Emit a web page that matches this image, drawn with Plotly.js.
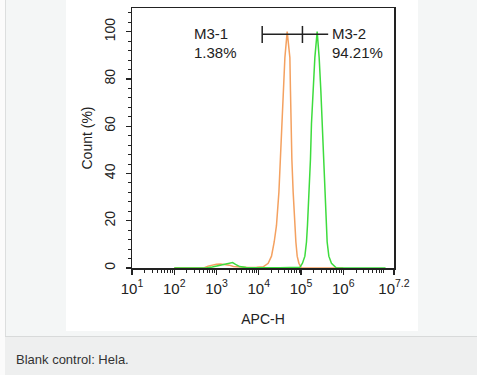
<!DOCTYPE html>
<html>
<head>
<meta charset="utf-8">
<script src="https://cdn.plot.ly/plotly-3.0.1.min.js"></script>
<style>
  html, body { margin: 0; padding: 0; width: 477px; height: 375px; overflow: hidden; background: #fbfbfb; }
  #frame { position: absolute; left: 5px; top: 0; width: 471px; height: 336px; border-left: 1px solid #dcdede; background: #f4f6f6; }
  #caption { position: absolute; left: 5px; top: 336px; width: 472px; height: 39px; background: #eeefef; border-top: 1px solid #d8dada; }
  #captext { position: absolute; left: 11px; top: 14px; font: 13px "Liberation Sans", Arial, sans-serif; color: #333; line-height: 18px; white-space: nowrap; }
  #chart { position: absolute; left: 66px; top: 0; width: 352px; height: 331px; background: #fff; }
</style>
</head>
<body>
<div id="frame"></div>
<div id="caption"><span id="captext"></span></div>
<div id="chart"></div>
<script>
// ---- data ----
const captionText = 'Blank control: Hela.';
const xTitle = 'APC-H';
const yTitle = 'Count (%)';

const xTickVals = [1e1, 1e2, 1e3, 1e4, 1e5, 1e6, 15848931.92];
const xTickText = ['10<sup>1</sup>', '10<sup>2</sup>', '10<sup>3</sup>', '10<sup>4</sup>', '10<sup>5</sup>', '10<sup>6</sup>', '10<sup>7.2</sup>'];
const yTickVals = [0, 20, 40, 60, 80, 100];

// blank control (orange)
const orangeX = [100, 501, 631, 794, 1000, 1259, 1585, 1995, 2512, 3548, 5623, 8913,
  12735, 16711, 20000, 23174, 26242, 29923, 32659, 35810, 37844, 41495, 46989,
  54450, 56234, 57544, 60674, 65163, 71450, 75509, 81096, 88920, 102329, 1000000];
const orangeY = [0, 0, 0.8, 1.3, 1.6, 1.7, 1.6, 1.2, 0.6, 0.3, 0.2, 0.3,
  0.5, 2, 5, 11, 18, 32, 46, 61, 75, 89, 100,
  89, 75, 61, 46, 32, 18, 11, 5, 2, 0, 0];

// stained sample (green)
const greenX = [100, 562, 794, 1122, 1585, 1995, 2399, 2818, 3548, 5012, 7943, 31623,
  93972, 108143, 123310, 134586, 141906, 155955, 167109, 176604, 193642, 212324, 240991,
  268534, 294442, 316228, 334195, 358096, 392645, 414954, 454988, 524807, 688652, 10000000];
const greenY = [0, 0, 0.4, 0.9, 1.4, 2.0, 2.3, 1.5, 0.6, 0.2, 0.1, 0.1,
  0.3, 2, 5, 11, 18, 32, 46, 61, 75, 89, 100,
  89, 75, 61, 46, 32, 18, 11, 5, 2, 0, 0];

// gate markers
const gateNames = ['M3-1', 'M3-2'];
const gatePercents = ['1.38%', '94.21%'];
const gateM31 = [12050, 108000];
const gateM32 = [108000, 439000];
const gateLevel = 98.9;
const capRange = [95.2, 102.4];

// ---- build ----
document.getElementById('captext').textContent = captionText;

const minorX = [];
for (let k = 1; k <= 7; k++) {
  for (let d = 2; d <= 9; d++) {
    const v = d * Math.pow(10, k);
    if (v < xTickVals[xTickVals.length - 1]) minorX.push(v);
  }
}

const font = 'Liberation Sans, Arial, sans-serif';
const ink = '#222';

const gateX = [gateM31[0], gateM31[1], null, gateM32[0], gateM32[1], null,
               gateM31[0], gateM31[0], null, gateM31[1], gateM31[1]];
const gateY = [gateLevel, gateLevel, null, gateLevel, gateLevel, null,
               capRange[0], capRange[1], null, capRange[0], capRange[1]];

const traces = [
  { x: orangeX, y: orangeY, type: 'scatter', mode: 'lines', line: { color: '#f4a160', width: 1.5 }, hoverinfo: 'skip' },
  { x: greenX, y: greenY, type: 'scatter', mode: 'lines', line: { color: '#3ddc3d', width: 1.5 }, hoverinfo: 'skip' },
  { x: gateX, y: gateY, type: 'scatter', mode: 'lines', line: { color: ink, width: 1.5 }, connectgaps: false, hoverinfo: 'skip' }
];

function ann(text, x, y) {
  return { text: text, x: x, y: y, xref: 'paper', yref: 'paper', xanchor: 'left', yanchor: 'middle',
           showarrow: false, font: { family: font, size: 15, color: ink } };
}

const layout = {
  width: 352, height: 331,
  margin: { l: 66, r: 24, t: 8, b: 63 },
  paper_bgcolor: '#fff', plot_bgcolor: '#fff',
  showlegend: false,
  font: { family: font, color: ink, size: 14 },
  xaxis: {
    type: 'log', range: [1, 7.2],
    tickmode: 'array', tickvals: xTickVals, ticktext: xTickText,
    ticks: 'outside', ticklen: 5, tickwidth: 1.2, tickcolor: ink,
    showline: true, linecolor: ink, linewidth: 1.5, mirror: true,
    showgrid: false, zeroline: false,
    ticklabelstandoff: 1,
    tickfont: { family: font, size: 15, color: ink },
    minor: { tickvals: minorX, ticks: 'outside', ticklen: 3, tickwidth: 1, tickcolor: ink, showgrid: false },
    title: { text: xTitle, font: { family: font, size: 14, color: ink }, standoff: 18 }
  },
  yaxis: {
    range: [0, 110],
    tickmode: 'array', tickvals: yTickVals, tickangle: -90,
    ticks: 'outside', ticklen: 5, tickwidth: 1.2, tickcolor: ink,
    showline: true, linecolor: ink, linewidth: 1.5, mirror: true,
    showgrid: false, zeroline: false,
    ticklabelstandoff: 5,
    tickfont: { family: font, size: 14, color: ink },
    minor: { dtick: 4, tick0: 0, ticks: 'outside', ticklen: 3, tickwidth: 1, tickcolor: ink, showgrid: false },
    title: { text: yTitle, font: { family: font, size: 14, color: ink }, standoff: 6 }
  },
  annotations: [
    ann(gateNames[0], 0.228, 0.902),
    ann(gatePercents[0], 0.228, 0.829),
    ann(gateNames[1], 0.755, 0.902),
    ann(gatePercents[1], 0.755, 0.829)
  ]
};

Plotly.newPlot('chart', traces, layout, { staticPlot: true, displayModeBar: false });
</script>
</body>
</html>
